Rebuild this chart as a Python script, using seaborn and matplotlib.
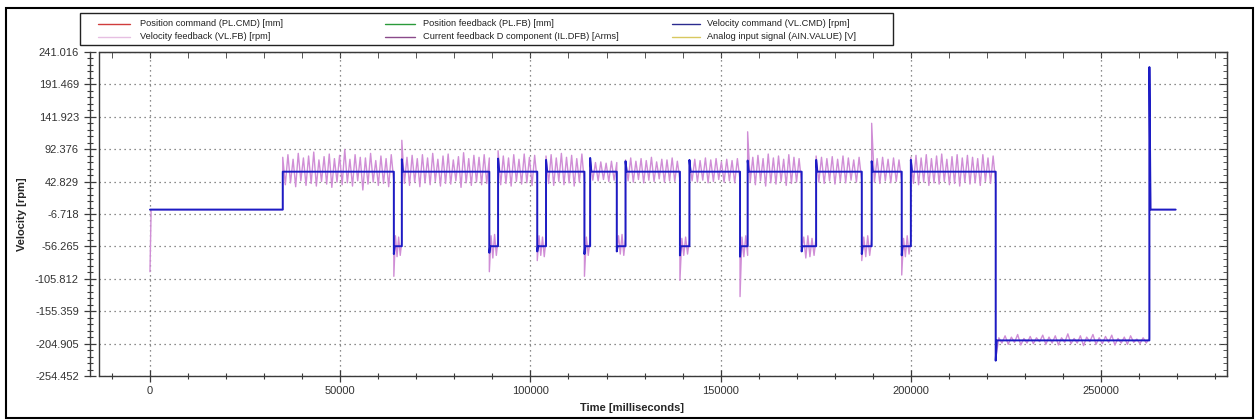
import numpy as np
import pandas as pd
import matplotlib.pyplot as plt
import seaborn as sns
from matplotlib.lines import Line2D
from matplotlib.patches import Rectangle
from matplotlib.ticker import FixedLocator, MultipleLocator, AutoMinorLocator

# velocity command (VL.CMD) [rpm] - step profile
cmd_t = [0, 34900, 34900,
         64100, 64100, 64300, 66200, 66200, 66500,
         89200, 89200, 89400, 91500, 91500, 91800,
         101800, 101800, 102000, 104100, 104100, 104400,
         114200, 114200, 114400, 115700, 115700, 116000,
         122700, 122700, 122900, 125000, 125000, 125300,
         139300, 139300, 139500, 141800, 141800, 142100,
         155100, 155100, 155300, 157100, 157100, 157400,
         171300, 171300, 171500, 175100, 175100, 175400,
         187100, 187100, 187300, 189700, 189700, 190000,
         197600, 197600, 197800, 200000, 200000, 200300,
         222300, 222300, 222600, 262700, 262700, 263000, 269600]
cmd_v = [0, 0, 58,
         58, -68, -56, -56, 77, 58,
         58, -66, -56, -56, 78, 58,
         58, -64, -56, -56, 76, 58,
         58, -68, -56, -56, 79, 58,
         58, -64, -56, -56, 74, 58,
         58, -70, -56, -56, 76, 58,
         58, -72, -56, -56, 75, 58,
         58, -64, -56, -56, 76, 58,
         58, -68, -56, -56, 74, 58,
         58, -70, -56, -56, 76, 58,
         58, -231, -200, -200, 218, 0, 0]

# velocity feedback (VL.FB) [rpm] - estimated samples per motion segment
fb_bounds = [0, 300, 34900, 64100, 66200, 89200, 91500, 101800, 104100,
             114200, 115700, 122700, 125000, 139300, 141800, 155100, 157100,
             171300, 175100, 187100, 189700, 197600, 200000, 222300, 262700,
             263000, 269600]
fb_start = [-95]
fb_idle = [0, 0]
fb_run01 = [80, 38, 84, 41, 77, 35, 86, 44, 79, 37, 82, 40, 88, 36, 76, 43,
            81, 39, 85, 34, 78, 42, 83, 38, 92, 41, 77, 36, 84, 44, 80, 30,
            79, 39, 86, 42, 75, 37, 82, 40, 78, 35, 84, 43]
fb_rev01 = [-102, -40, -72, -42, -70, -48]
fb_run02 = [106, 40, 80, 37, 83, 42, 78, 35, 84, 41, 79, 38, 86, 43, 77, 36,
            82, 40, 85, 39, 76, 44, 81, 34, 87, 41, 78, 37, 83, 42, 80, 38,
            84, 40, 79]
fb_rev02 = [-95, -40, -74, -38, -70, -45]
fb_run03 = [90, 38, 82, 40, 79, 36, 84, 43, 77, 39, 85, 41, 80, 37, 83, 42]
fb_rev03 = [-78, -40, -70, -42, -72, -44]
fb_run04 = [82, 40, 84, 37, 79, 43, 86, 38, 80, 41, 83, 36, 78, 42, 85, 40]
fb_rev04 = [-102, -42, -70, -45]
fb_run05 = [77, 45, 72, 44, 73, 46, 71, 43, 74, 45, 72]
fb_rev05 = [-62, -40, -68, -38, -70, -44]
fb_run06 = [76, 44, 79, 42, 74, 46, 78, 41, 75, 45, 80, 43, 73, 47, 77, 42,
            76, 44, 79, 43, 74, 45]
fb_rev06 = [-108, -44, -70, -42, -68, -46]
fb_run07 = [74, 44, 77, 42, 75, 45, 79, 41, 76, 43, 78, 46, 73, 42, 77, 44,
            75, 41, 78, 45]
fb_rev07 = [-133, -42, -72, -40, -70]
fb_run08 = [119, 42, 80, 38, 83, 44, 78, 36, 85, 41, 79, 39, 82, 43, 77, 37,
            84, 40, 80, 42, 78, 39]
fb_rev08 = [-60, -42, -74, -40, -72, -44, -70, -42]
fb_run09 = [82, 42, 80, 40, 78, 44, 81, 39, 77, 43, 82, 41, 79, 45, 76, 42,
            80, 43]
fb_rev09 = [-78, -42, -72, -40, -70, -45]
fb_run10 = [132, 42, 78, 40, 80, 44, 77, 41, 79, 43, 76, 42]
fb_rev10 = [-100, -44, -72, -40, -68, -46]
fb_run11 = [80, 40, 83, 38, 79, 42, 84, 37, 78, 41, 82, 39, 85, 43, 77, 38,
            81, 40, 84, 36, 79, 42, 83, 39, 80, 41, 78, 37, 84, 43, 79, 40,
            82, 41]
fb_hold = [-228, -196, -204, -193, -206, -195, -203, -191, -207, -197, -204,
           -194, -205, -196, -202, -192, -206, -195, -204, -193, -207, -196,
           -203, -190, -205, -197, -204, -193, -208, -195, -202, -191, -206,
           -196, -205, -194, -203, -192, -207, -197, -204, -195, -206, -193,
           -203, -198, -205, -196, -204, -197]
fb_spike = [215]
fb_stop = [0, 0]

fb_segments = [fb_start, fb_idle, fb_run01, fb_rev01, fb_run02, fb_rev02,
               fb_run03, fb_rev03, fb_run04, fb_rev04, fb_run05, fb_rev05,
               fb_run06, fb_rev06, fb_run07, fb_rev07, fb_run08, fb_rev08,
               fb_run09, fb_rev09, fb_run10, fb_rev10, fb_run11, fb_hold,
               fb_spike, fb_stop]

y_ticks = [241.016, 191.469, 141.923, 92.376, 42.829, -6.718, -56.265,
           -105.812, -155.359, -204.905, -254.452]
y_labels = ["241.016", "191.469", "141.923", "92.376", "42.829", "-6.718",
            "-56.265", "-105.812", "-155.359", "-204.905", "-254.452"]
x_ticks = [0, 50000, 100000, 150000, 200000, 250000]

legend_labels = ["Position command (PL.CMD) [mm]", "Position feedback (PL.FB) [mm]",
                 "Velocity command (VL.CMD) [rpm]", "Velocity feedback (VL.FB) [rpm]",
                 "Current feedback D component (IL.DFB) [Arms]",
                 "Analog input signal (AIN.VALUE) [V]"]
legend_colors = ["#d03c3c", "#2a9a3a", "#2b2b8f", "#e6bfe2", "#8a4a8a", "#d8c860"]

# build tables
fb_t, fb_v = [], []
for k, seg in enumerate(fb_segments):
    fb_t.extend(np.linspace(fb_bounds[k], fb_bounds[k + 1], len(seg)))
    fb_v.extend(seg)
fb_df = pd.DataFrame({"t": fb_t, "v": fb_v})
cmd_df = pd.DataFrame({"t": cmd_t, "v": cmd_v})

sns.set_style("white")
plt.rcParams["font.family"] = ["Liberation Sans", "DejaVu Sans"]

W, H = 1257, 420
fig = plt.figure(figsize=(W / 100, H / 100), dpi=100)
ax = fig.add_axes([99 / W, 1 - 376 / H, 1128 / W, 324 / H])

sns.lineplot(data=fb_df, x="t", y="v", estimator=None, sort=False,
             color="#d08ed6", lw=1.0, ax=ax, legend=False)
sns.lineplot(data=cmd_df, x="t", y="v", estimator=None, sort=False,
             color="#1c1cc4", lw=1.4, ax=ax, legend=False)

ax.set_xlim(-13400, 283100)
ax.set_ylim(-254.452, 241.016)

ax.yaxis.set_major_locator(FixedLocator(y_ticks))
ax.set_yticklabels(y_labels)
ax.yaxis.set_minor_locator(AutoMinorLocator(5))
ax.set_xticks(x_ticks)
ax.set_xticklabels([str(v) for v in x_ticks])
ax.xaxis.set_minor_locator(MultipleLocator(10000))

spine_col = "#3a3a3a"
for s in ax.spines.values():
    s.set_color(spine_col)
    s.set_linewidth(1)
ax.spines["left"].set_position(("outward", 6.5))
ax.plot([0, 0], [0, 1], transform=ax.transAxes, color=spine_col, lw=1,
        clip_on=False)

ax.tick_params(left=True, bottom=True, which="both")
ax.tick_params(axis="y", which="major", direction="inout", length=8, width=0.9,
               color=spine_col, labelsize=8, labelcolor="#333333", pad=4)
ax.tick_params(axis="y", which="minor", direction="inout", length=5, width=0.8,
               color=spine_col)
ax.tick_params(axis="x", which="major", direction="inout", length=8, width=0.9,
               color=spine_col, labelsize=8, labelcolor="#333333", pad=3)
ax.tick_params(axis="x", which="minor", direction="inout", length=5, width=0.8,
               color=spine_col)

sec_y = ax.secondary_yaxis("right")
sec_y.set_yticks(y_ticks, labels=[])
sec_y.yaxis.set_minor_locator(AutoMinorLocator(5))
sec_y.tick_params(which="both", right=True)
sec_y.tick_params(which="major", direction="in", length=6, color=spine_col)
sec_y.tick_params(which="minor", direction="in", length=3, color=spine_col)
sec_y.spines["right"].set_color(spine_col)
sec_x = ax.secondary_xaxis("top")
sec_x.set_xticks(x_ticks, labels=[])
sec_x.xaxis.set_minor_locator(MultipleLocator(10000))
sec_x.tick_params(which="both", top=True)
sec_x.tick_params(which="major", direction="in", length=4, color=spine_col)
sec_x.tick_params(which="minor", direction="in", length=4, color=spine_col)
sec_x.spines["top"].set_color(spine_col)

ax.grid(True, which="major", color="#666666", lw=0.9, linestyle=(0, (1, 3)))

ax.set_xlabel("Time [milliseconds]", fontsize=8, fontweight="bold")
ax.set_ylabel("Velocity [rpm]", fontsize=8, fontweight="bold")
ax.xaxis.set_label_coords(0.4725, -0.083)
ax.yaxis.set_label_coords(-0.0638, 0.5)

# legend box above the plot
fig.add_artist(Rectangle((80 / W, 1 - 45 / H), 813 / W, 32 / H,
                         transform=fig.transFigure, fill=False,
                         ec="#222222", lw=1))
col_x = [(98, 130, 140), (385, 415, 423), (672, 700, 707)]
row_y = [24, 36.5]
for i, (lab, col) in enumerate(zip(legend_labels, legend_colors)):
    hx0, hx1, tx = col_x[i % 3]
    ty = 1 - row_y[i // 3] / H
    fig.add_artist(Line2D([hx0 / W, hx1 / W], [ty, ty], transform=fig.transFigure,
                          color=col, lw=1))
    fig.text(tx / W, ty, lab, fontsize=6.7, color="#222222", va="center")

# outer frame
fig.add_artist(Rectangle((6 / W, 1 - 418 / H), 1247 / W, 410 / H,
                         transform=fig.transFigure, fill=False,
                         ec="black", lw=1.5))

fig.savefig("out.png", dpi=100)
